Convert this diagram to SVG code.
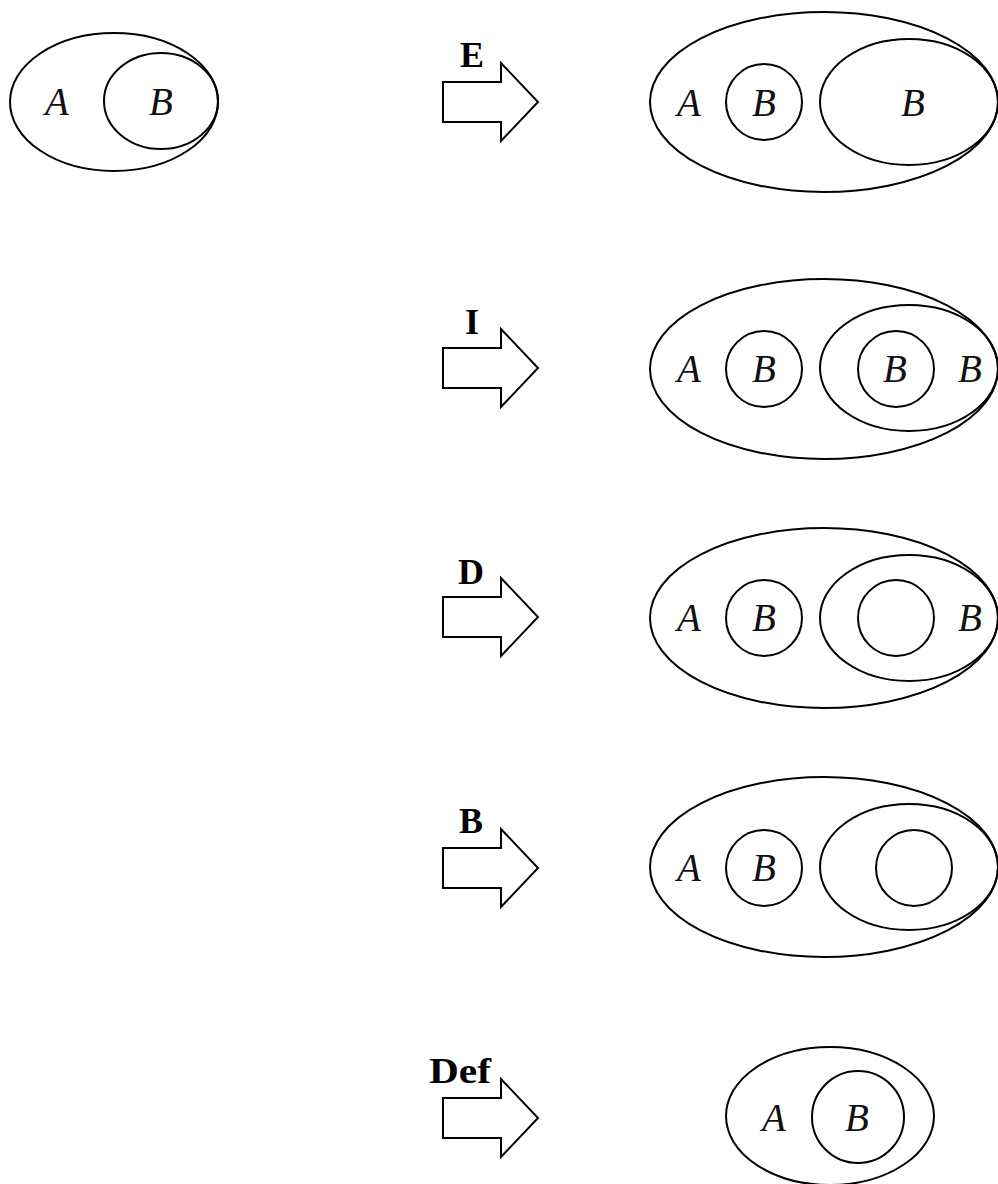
<svg xmlns="http://www.w3.org/2000/svg" width="998" height="1184" viewBox="0 0 998 1184">
<style>
.s{fill:none;stroke:#000;stroke-width:2}
.v{font-family:"Liberation Serif",serif;font-style:italic;font-size:39px;text-anchor:middle;fill:#111}
.l{font-family:"Liberation Serif",serif;font-weight:bold;font-size:36px;fill:#000;text-anchor:middle}
</style>
<defs>
<polygon id="arr" class="s" points="443,-20 501,-20 501,-39 538,0 501,39 501,20 443,20"/>
</defs>
<g id="start">
<ellipse class="s" cx="114" cy="102" rx="104" ry="69"/>
<ellipse class="s" cx="161" cy="101" rx="57" ry="48"/>
<text class="v" x="57" y="115">A</text>
<text class="v" x="161" y="115">B</text>
</g>
<g id="connectors">
<use href="#arr" y="102"/>
<text class="l" x="472" y="67">E</text>
<use href="#arr" y="368"/>
<text class="l" x="472" y="334">I</text>
<use href="#arr" y="617"/>
<text class="l" x="471" y="584">D</text>
<use href="#arr" y="868"/>
<text class="l" x="471" y="833">B</text>
<use href="#arr" y="1118"/>
<text class="l" x="460" y="1083" textLength="62" lengthAdjust="spacingAndGlyphs">Def</text>
</g>
<g id="rowE">
<ellipse class="s" cx="824" cy="102" rx="174" ry="90"/>
<ellipse class="s" cx="909" cy="102" rx="89" ry="63"/>
<circle class="s" cx="764" cy="102" r="38"/>
<text class="v" x="689" y="116">A</text>
<text class="v" x="764" y="116">B</text>
<text class="v" x="913" y="116">B</text>
</g>
<g id="rowI">
<ellipse class="s" cx="824" cy="369" rx="174" ry="90"/>
<ellipse class="s" cx="909" cy="368" rx="89" ry="63"/>
<circle class="s" cx="764" cy="369" r="38"/>
<circle class="s" cx="896" cy="369" r="38"/>
<text class="v" x="689" y="382">A</text>
<text class="v" x="764" y="382">B</text>
<text class="v" x="895" y="382">B</text>
<text class="v" x="970" y="382">B</text>
</g>
<g id="rowD">
<ellipse class="s" cx="824" cy="618" rx="174" ry="90"/>
<ellipse class="s" cx="909" cy="618" rx="89" ry="63"/>
<circle class="s" cx="764" cy="618" r="38"/>
<circle class="s" cx="896" cy="618" r="38"/>
<text class="v" x="689" y="631">A</text>
<text class="v" x="764" y="631">B</text>
<text class="v" x="970" y="631">B</text>
</g>
<g id="rowB">
<ellipse class="s" cx="824" cy="867" rx="174" ry="90"/>
<ellipse class="s" cx="909" cy="867" rx="89" ry="63"/>
<circle class="s" cx="764" cy="868" r="38"/>
<circle class="s" cx="914" cy="868" r="38"/>
<text class="v" x="689" y="881">A</text>
<text class="v" x="764" y="881">B</text>
</g>
<g id="rowDef">
<ellipse class="s" cx="830" cy="1116" rx="104" ry="69"/>
<circle class="s" cx="858" cy="1117" r="46"/>
<text class="v" x="774" y="1131">A</text>
<text class="v" x="857" y="1131">B</text>
</g>
</svg>
